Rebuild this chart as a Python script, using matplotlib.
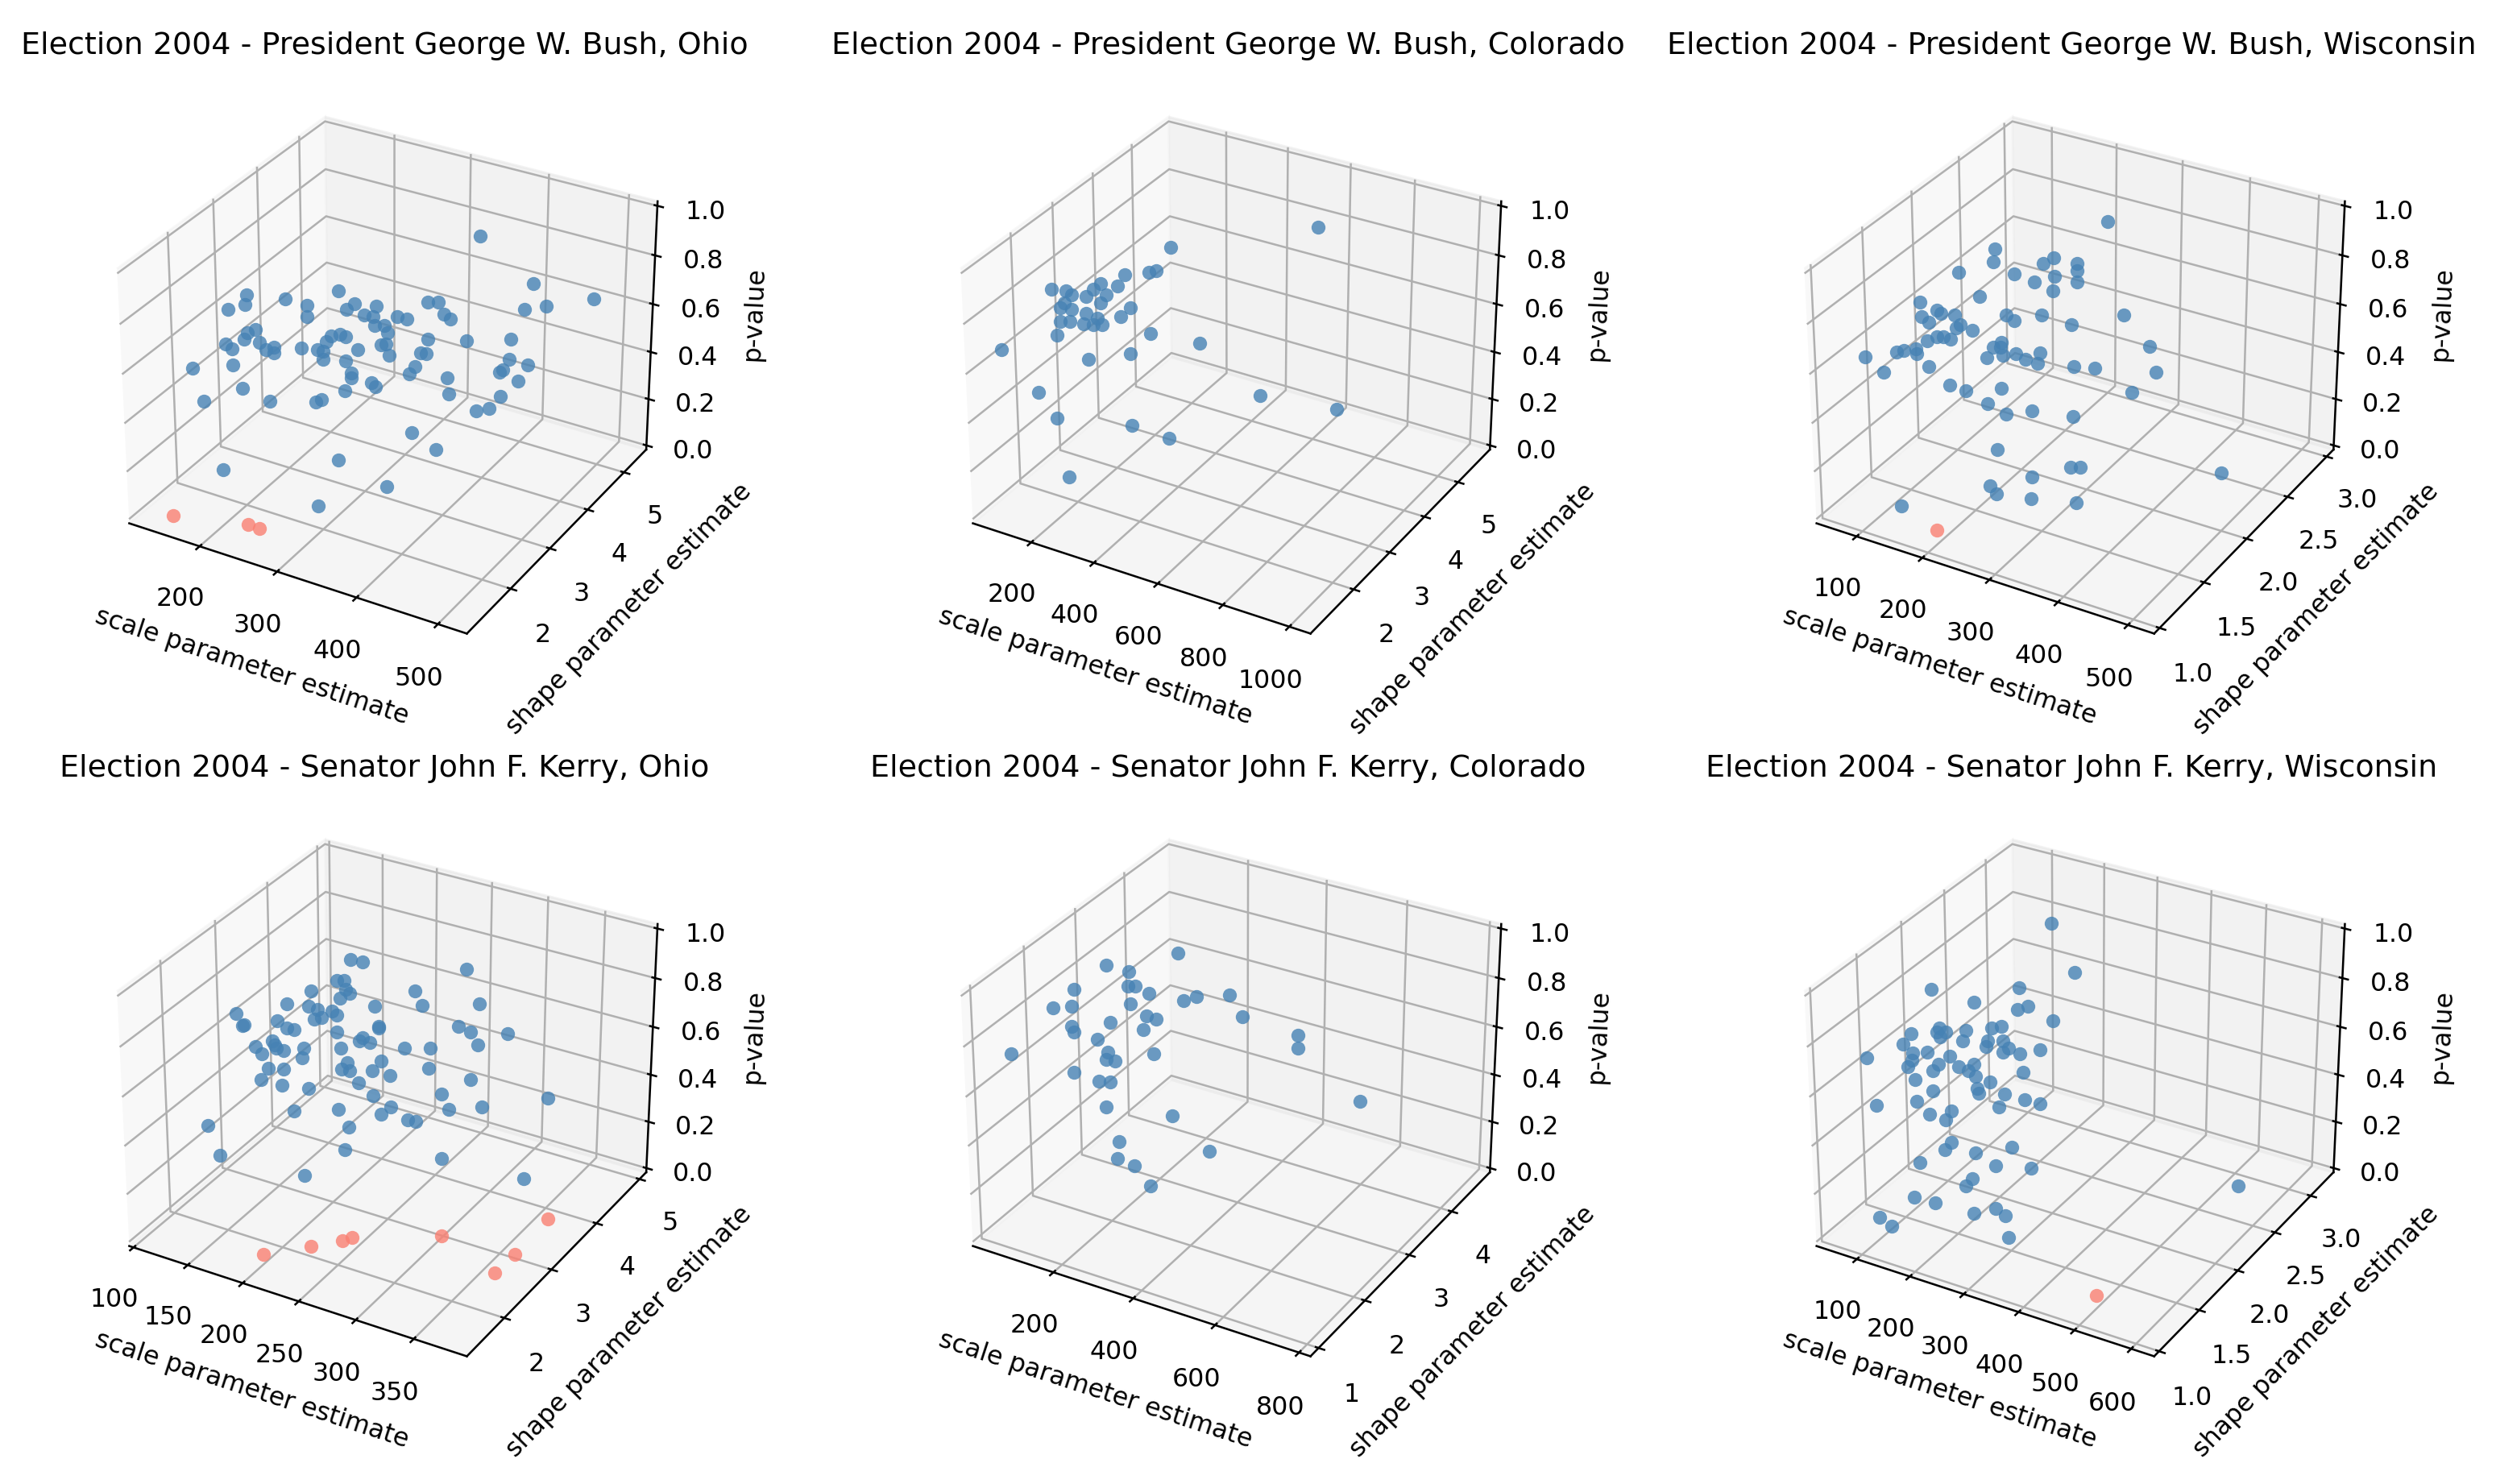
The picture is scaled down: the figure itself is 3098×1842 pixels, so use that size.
import matplotlib
matplotlib.use('Agg')
import matplotlib.pyplot as plt

titles = ['Election 2004 - President George W. Bush, Ohio', 'Election 2004 - President George W. Bush, Colorado',
          'Election 2004 - President George W. Bush, Wisconsin', 'Election 2004 - Senator John F. Kerry, Ohio',
          'Election 2004 - Senator John F. Kerry, Colorado', 'Election 2004 - Senator John F. Kerry, Wisconsin']

x_ticks = [[200,300,400,500],[200,400,600,800,1000],[100,200,300,400,500],[100,150,200,250,300,350],[200,400,600,800],[100,200,300,400,500,600]]
y_ticks = [[2,3,4,5],[2,3,4,5],[1.0,1.5,2.0,2.5,3.0],[2,3,4,5],[1,2,3,4],[1.0,1.5,2.0,2.5,3.0]]
z_ticks = [0,0.2,0.4,0.6,0.8,1.0]
x_limits = [(107,535),(10,1063),(38,537),(96,395),(-7,827),(23,640)]
y_limits = [(0.93,5.63),(0.85,5.98),(0.94,3.09),(1.24,5.16),(0.83,4.94),(0.94,3.33)]

# Bush, Ohio
bo_scale = [396,497,532,513,487,256,136,133,110,187, 215,215,277,267,305,289,301,302,315,319, 331,343,369,382,390,398,147,136,131,151,
            112,114,160,171,171,207,228,236,236,246, 240,258,265,281,265,311,317,321,370,361, 368,418,472,470,493,463,459,482,107,115,
            354,347,272,272,298,303,264,394,396,127, 109,164,225,233,460,431,447,350,381,255, 154,333,290]
bo_shape = [3.94,3.2,4.03,3.2,3.2,3.2,3.2,3.2,3.2,3.2, 3.2,3.2,3.2,3.2,3.2,3.2,3.2,3.2,3.2,3.2, 3.2,3.2,3.2,3.2,3.2,3.2,3.2,3.2,3.2,3.2,
            3.09,3.2,3.2,3.2,3.2,3.2,3.2,3.2,3.2,3.2, 3.2,3.2,3.2,3.2,3.2,3.2,3.2,3.2,3.2,3.2, 3.2,3.2,3.2,3.2,3.2,3.2,3.2,3.2,2.43,3.2,
            3.2,3.2,3.2,3.2,3.2,3.2,3.2,3.2,3.2,3.2, 2.62,3.2,3.2,3.2,3.2,3.2,3.2,3.2,3.2,3.19, 2.25,2.90,2.06]
bo_p = [.987,.988,.844,.915,.879,.746,.625,.583,.541,.654, .650,.604,.713,.682,.730,.679,.684,.649,.658,.632, .708,.712,.803,.814,.771,.761,.489,.465,.435,.439,
        .412,.380,.417,.437,.414,.467,.480,.480,.446,.552, .524,.571,.567,.529,.468,.578,.585,.543,.655,.590, .593,.691,.748,.665,.665,.616,.602,.589,.403,.312,
        .528,.490,.425,.404,.409,.395,.344,.520,.453,.221, .237,.201,.259,.276,.507,.420,.443,.249,.209,.040, .047,.053,.061]
bo_rej_scale = [151,232,247]
bo_rej_shape = [1.18,1.47,1.46]
bo_rej_p = [.02,.02,.02]

# Bush, Colorado
bc_scale = [692,409,303,401,377,278,226,201,243,177, 223,65,112,131,106,94,130,176,317,287, 92,122,167,198,212,227,379,534,79,12, 314,179,12,719,947,70,317,433,150]
bc_shape = [4.24,2.80,2.5,2.5,2.5,2.5,2.5,2.5,2.5,2.5, 2.5,2.5,2.5,2.5,2.5,2.5,2.5,2.5,2.5,2.5, 2.5,2.5,2.5,2.5,2.5,2.5,2.5,2.5,2.5,1.67, 2.5,2.5,2.5,2.5,2.5,2.5,2.5,2.5,2.18]
bc_p = [1.0,.999,.892,.940,.925,.838,.828,.795,.788,.757, .750,.748,.758,.748,.708,.684,.689,.691,.764,.717, .627,.638,.642,.653,.684,.661,.683,.703,.565,.590, .577,.502,.300,.560,.596,.215,.282,.273,.041]
bc_rej_scale = []
bc_rej_shape = []
bc_rej_p = []

# Bush, Wisconsin
bw_scale = [288,192,190,278,263,312,312,137,220,280, 250,312,277,168,77,102,108,79,130,90, 208,219,260,380,304,138,132,156,86,101,
            112,123,200,188,199,44,49,68,69,42, 202,177,222,236,257,254,417,308,338,426, 43,88,119,145,199,392,178,206,245,306,
            191,303,317,522,244,204,221,266,323,131]
bw_shape = [2.32,1.8,1.8,1.8,1.8,1.8,1.8,1.8,1.8,1.8, 1.8,1.8,1.8,1.8,1.8,1.8,1.8,1.8,1.8,1.8, 1.8,1.8,1.8,1.8,1.8,1.8,1.8,1.8,1.8,1.8,
            1.8,1.8,1.8,1.8,1.8,1.76,1.8,1.8,1.8,1.46, 1.8,1.8,1.8,1.8,1.8,1.8,1.8,1.8,1.8,1.8, 1.63,1.8,1.8,1.8,1.8,1.8,1.8,1.8,1.8,1.8,
            1.8,1.8,1.8,1.8,1.8,1.63,1.58,1.63,1.71,1.20]
bw_p = [.98,.953,.900,.981,.949,.985,.957,.819,.874,.910, .866,.913,.850,.744,.653,.638,.632,.595,.642,.580, .701,.687,.741,.834,.737,.609,.588,.599,.500,.528,
        .536,.536,.584,.553,.562,.434,.432,.453,.432,.506, .532,.503,.555,.542,.584,.540,.739,.570,.588,.643, .390,.394,.342,.340,.392,.534,.313,.290,.337,.365,
        .129,.148,.160,.314,.058,.043,.041,.043,.047,.046]
bw_rej_scale = [193]
bw_rej_shape = [1.14]
bw_rej_p = [.02]

# Kerry, Ohio
ko_scale = [216,223,299,205,212,274,182,213,217,208, 160,180,239,280,329,188,201,205,191,185, 113,120,119,151,160,166,242,242,311,322,
            353,205,146,148,228,225,234,328,130,150, 156,175,208,265,287,136,173,244,214,209, 216,142,156,236,286,252,135,154,224,322,
            179,297,237,388,165,206,253,304,332,244, 268,275,97,215,211,96,298,174,369]
ko_shape = [3.04,3.12,3.44,3.0,3.0,3.0,3.0,3.0,3.0,3.0, 3.0,3.0,3.0,3.0,3.0,3.0,3.0,3.0,3.0,3.0, 3.0,3.0,3.0,3.0,3.0,3.0,3.0,3.0,3.0,3.0,
            3.0,3.0,3.0,3.0,3.0,3.0,3.0,3.0,3.0,3.0, 3.0,3.0,3.0,3.0,3.0,3.0,3.0,3.0,3.0,3.0, 3.0,3.0,3.0,3.0,3.0,3.0,3.0,3.0,3.0,3.0,
            3.0,3.0,3.0,3.0,3.0,3.0,3.0,3.0,3.0,3.0, 3.0,3.0,2.73,3.0,3.0,2.96,3.0,3.0,3.0]
ko_p = [.997,.984,.996,.909,.917,.952,.837,.884,.872,.841, .757,.774,.849,.901,.970,.770,.779,.769,.743,.727, .659,.622,.616,.678,.659,.660,.772,.765,.860,.851,
        .885,.701,.589,.576,.709,.690,.694,.809,.545,.563, .563,.595,.638,.712,.741,.522,.554,.633,.586,.556, .558,.468,.486,.585,.658,.584,.413,.415,.517,.662,
        .434,.569,.481,.676,.323,.385,.458,.518,.565,.415, .424,.427,.216,.321,.223,.044,.305,.061,.324]
ko_rej_scale = [365,305,246,242,225,199,366,365]
ko_rej_shape = [3.67,2.85,2.36,2.26,2.01,1.65,2.92,2.52]
ko_rej_p = [.02,.02,.02,.02,.02,.02,.02,.02]

# Kerry, Colorado
kc_scale = [277,174,229,227,245,90,279,232,363,394, 471,36,83,505,180,272,296,82,87,263, 147,636,637,173,169,191,289,-2,84,148, 177,166,783,332,197,424,191,234,275]
kc_shape = [2.80,2.2,2.2,2.2,2.2,2.2,2.2,2.2,2.2,2.2, 2.23,2.2,2.2,2.2,2.2,2.2,2.2,2.2,2.2,2.2, 2.2,2.2,2.2,2.2,2.2,2.2,2.2,1.65,2.2,2.2, 2.2,2.2,2.2,2.2,2.2,2.2,2.2,2.2,2.2]
kc_p = [.990,.987,.988,.930,.938,.854,.923,.860,.932,.961, .999,.756,.785,.933,.762,.829,.830,.703,.682,.771, .679,.922,.870,.640,.607,.611,.686,.640,.514,.507, .520,.410,.731,.453,.279,.354,.206,.197,.133]
kc_rej_scale = []
kc_rej_shape = []
kc_rej_p = []

# Kerry, Wisconsin
kw_scale = [221,336,110,273,189,289,269,333,123,119, 136,124,174,222,239,70,54,167,214,211, 242,252,242,272,309,25,72,69,61,100,
            142,121,110,159,187,177,190,74,279,217, 109,193,196,244,281,309,77,31,233,101, 143,132,256,142,128,187,80,225,291,180,
            168,638,108,147,212,239,264,89,118,300]
kw_shape = [2.52,2.04,1.8,1.8,1.8,1.8,1.8,1.8,1.8,1.8, 1.8,1.8,1.8,1.8,1.8,1.8,1.8,1.8,1.8,1.8, 1.8,1.8,1.8,1.8,1.8,1.56,1.8,1.8,1.8,1.8,
            1.8,1.8,1.8,1.8,1.8,1.8,1.8,1.8,1.8,1.8, 1.8,1.8,1.8,1.8,1.8,1.8,1.8,1.61,1.8,1.8, 1.8,1.8,1.8,1.8,1.8,1.8,1.8,1.8,1.8,1.8,
            1.8,1.99,1.56,1.56,1.61,1.70,1.66,1.27,1.23,1.47]
kw_p = [.988,.984,.847,.952,.843,.889,.862,.858,.699,.680, .691,.662,.722,.760,.778,.643,.588,.673,.703,.679, .721,.697,.676,.687,.726,.584,.564,.531,.500,.587,
        .597,.549,.517,.562,.591,.559,.543,.455,.617,.539, .431,.494,.478,.505,.507,.509,.365,.376,.445,.327, .370,.324,.292,.238,.197,.223,.110,.193,.230,.108,
        .069,.335,.054,.058,.043,.054,.054,.045,.041,.048]
kw_rej_scale = [495]
kw_rej_shape = [1.24]
kw_rej_p = [.02]

panels = [(bo_scale,bo_shape,bo_p,bo_rej_scale,bo_rej_shape,bo_rej_p),
          (bc_scale,bc_shape,bc_p,bc_rej_scale,bc_rej_shape,bc_rej_p),
          (bw_scale,bw_shape,bw_p,bw_rej_scale,bw_rej_shape,bw_rej_p),
          (ko_scale,ko_shape,ko_p,ko_rej_scale,ko_rej_shape,ko_rej_p),
          (kc_scale,kc_shape,kc_p,kc_rej_scale,kc_rej_shape,kc_rej_p),
          (kw_scale,kw_shape,kw_p,kw_rej_scale,kw_rej_shape,kw_rej_p)]

DPI = 228
fig = plt.figure(figsize=(3098/DPI, 1842/DPI), dpi=DPI)
S = 0.405
W = S*1842/3098
centers_x = [0.154, 0.492, 0.830]
centers_y = [0.75, 0.263]
for i, t in enumerate(titles):
    cx, cy = centers_x[i % 3], centers_y[i // 3]
    ax = fig.add_axes([cx-W/2, cy-S/2, W, S], projection='3d')
    sx, sy, sp, rx, ry, rp = panels[i]
    ax.scatter(sx, sy, sp, c='steelblue', alpha=0.8, s=30, linewidths=0, depthshade=False)
    if rx:
        ax.scatter(rx, ry, rp, c='salmon', alpha=0.8, s=30, linewidths=0, depthshade=False)
    ax.set_xlim(*x_limits[i], view_margin=0)
    ax.set_ylim(*y_limits[i], view_margin=0)
    ax.set_zlim(0, 1, view_margin=0.018)
    ax.set_xticks(x_ticks[i])
    ax.set_yticks(y_ticks[i])
    ax.set_zticks(z_ticks)
    ax.set_xlabel('scale parameter estimate')
    ax.set_ylabel('shape parameter estimate')
    ax.set_zlabel('p-value')
    ax.set_title(t, pad=6.6)
fig.savefig('out.png')
